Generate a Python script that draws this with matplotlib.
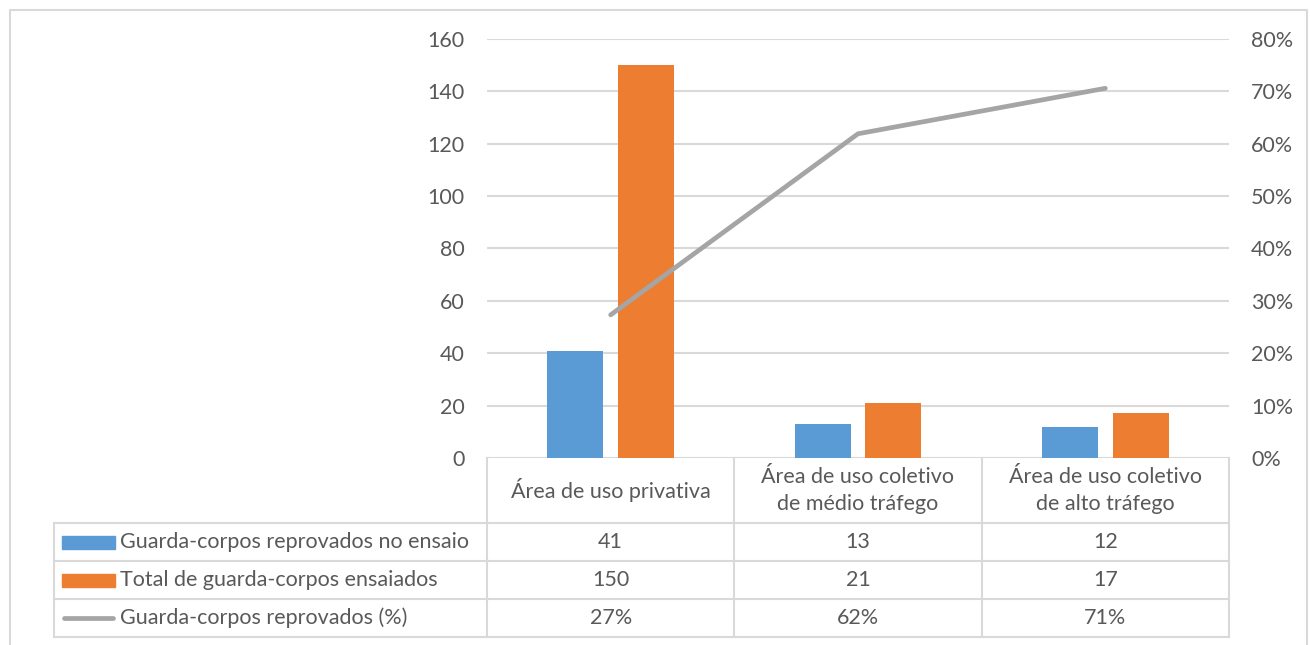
import matplotlib
matplotlib.use("Agg")
import matplotlib.pyplot as plt
import matplotlib.transforms as mtransforms
from matplotlib.lines import Line2D
from matplotlib.patches import Rectangle
from matplotlib.ticker import FuncFormatter

# ---- data ----
categories = ["Área de uso privativa",
              "Área de uso coletivo\nde médio tráfego",
              "Área de uso coletivo\nde alto tráfego"]
reprovados = [41, 13, 12]
ensaiados = [150, 21, 17]
series_names = ["Guarda-corpos reprovados no ensaio",
                "Total de guarda-corpos ensaiados",
                "Guarda-corpos reprovados (%)"]
left_ticks = [0, 20, 40, 60, 80, 100, 120, 140, 160]
right_ticks = [0.0, 0.1, 0.2, 0.3, 0.4, 0.5, 0.6, 0.7, 0.8]

percent = [r / t for r, t in zip(reprovados, ensaiados)]
percent_labels = [f"{p:.0%}" for p in percent]

# ---- style ----
BLUE = "#5B9BD5"
ORANGE = "#ED7D31"
GRAY = "#A5A5A5"
TEXT = "#595959"
GRID = "#D9D9D9"
FS = 15.5
plt.rcParams["font.family"] = ["Lato", "DejaVu Sans"]

W, H = 1310, 645
fig = plt.figure(figsize=(W / 100, H / 100), dpi=100)


def fx(px):
    return px / W


def fy(py):
    return (H - py) / H


# plot area
x0, x1, ytop, ybot = 487, 1229, 39, 458
ax = fig.add_axes([fx(x0), fy(ybot), fx(x1) - fx(x0), fy(ytop) - fy(ybot)])
ax2 = ax.twinx()

n = len(categories)
xs = list(range(n))
bw = 0.227
off = 0.143
ax.bar([x - off for x in xs], reprovados, width=bw, color=BLUE, zorder=3)
ax.bar([x + off for x in xs], ensaiados, width=bw, color=ORANGE, zorder=3)
ax.set_xlim(-0.5, n - 0.5)
ax.set_ylim(left_ticks[0], left_ticks[-1])
ax.set_yticks(left_ticks)
ax.set_xticks([])
ax.grid(axis="y", color=GRID, lw=1.5, zorder=0)
ax.tick_params(axis="y", length=0, pad=16, labelsize=FS, labelcolor=TEXT)

ax2.plot(xs, percent, color=GRAY, lw=3.4, solid_capstyle="round", zorder=4)
ax2.set_ylim(right_ticks[0], right_ticks[-1])
ax2.set_yticks(right_ticks)
ax2.yaxis.set_major_formatter(FuncFormatter(lambda v, _: f"{v:.0%}"))
ax2.tick_params(axis="y", length=0, pad=16, labelsize=FS, labelcolor=TEXT)

for a in (ax, ax2):
    for s in a.spines.values():
        s.set_visible(False)

# ---- data table below the plot ----
tr = mtransforms.blended_transform_factory(ax.transData, fig.transFigure)
lw_tab = 1.5
row_edges = [523, 561, 599, 637]
col_edges = [x - 0.5 for x in range(n + 1)]
leg_left = 54

# vertical lines of category columns (header starts at plot bottom)
for ce in col_edges:
    fig.add_artist(Line2D([ce, ce], [fy(ybot), fy(row_edges[-1])], transform=tr,
                          color=GRID, lw=lw_tab))
# horizontal row lines spanning legend column + categories
for re in row_edges:
    fig.add_artist(Line2D([fx(leg_left), fx(x1)], [fy(re), fy(re)],
                          transform=fig.transFigure, color=GRID, lw=lw_tab))
fig.add_artist(Line2D([fx(leg_left), fx(leg_left)], [fy(row_edges[0]), fy(row_edges[-1])],
                      transform=fig.transFigure, color=GRID, lw=lw_tab))

# header labels
for i, c in enumerate(categories):
    fig.text(i, fy((ybot + row_edges[0]) / 2), c, transform=tr, ha="center", va="center",
             fontsize=FS, color=TEXT, linespacing=1.45)

# table rows
rows = [[str(v) for v in reprovados], [str(v) for v in ensaiados], percent_labels]
for r, vals in enumerate(rows):
    yc = fy((row_edges[r] + row_edges[r + 1]) / 2)
    for i, v in enumerate(vals):
        fig.text(i, yc, v, transform=tr, ha="center", va="center", fontsize=FS, color=TEXT)
    fig.text(fx(120), yc, series_names[r], transform=fig.transFigure, ha="left",
             va="center", fontsize=FS, color=TEXT)

# legend keys
for r, col in enumerate([BLUE, ORANGE]):
    ym = (row_edges[r] + row_edges[r + 1]) / 2
    fig.add_artist(Rectangle((fx(62), fy(ym + 6.5)), fx(115) - fx(62), 13 / H,
                             transform=fig.transFigure, color=col))
ym = (row_edges[2] + row_edges[3]) / 2
fig.add_artist(Line2D([fx(64), fx(113)], [fy(ym), fy(ym)], transform=fig.transFigure,
                      color=GRAY, lw=3.4, solid_capstyle="round"))

# outer chart frame
fig.add_artist(Line2D([fx(10), fx(10), fx(1307), fx(1307)], [0, fy(10), fy(10), 0],
                      transform=fig.transFigure, color=GRID, lw=1.5))

fig.savefig("out.png", dpi=100)
